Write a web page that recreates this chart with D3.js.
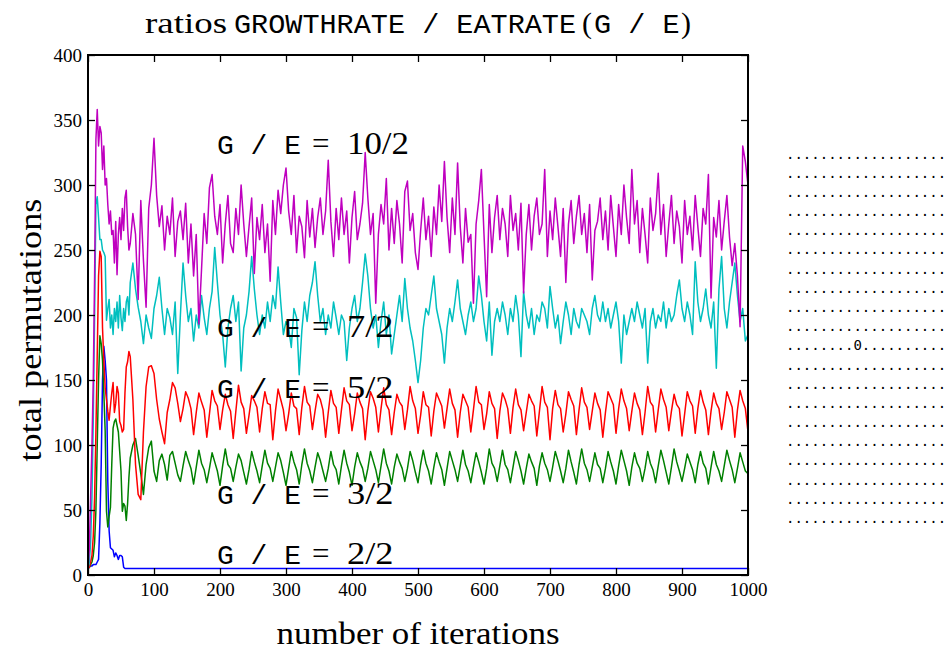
<!DOCTYPE html>
<html>
<head>
<meta charset="utf-8">
<script src="https://cdn.jsdelivr.net/npm/d3@7"></script>
<style>
  body { margin: 0; background: #fff; }
  svg { display: block; }
</style>
</head>
<body>
<div id="chart"></div>
<script>
// iterations: every 2 steps at the start, then every 4 steps
const earlyIters = [0,2,4,6,8,10,12,14,16,18,20,22,24,26,28,30,32,34,36,38,40,42,44,46,48,50,52,54,56,58,60,62];
const lateIters = d3.range(64, 1001, 4);
const iterations = earlyIters.concat(lateIters);

const xTicks = [0,100,200,300,400,500,600,700,800,900,1000];
const yTicks = [0,50,100,150,200,250,300,350,400];

// G / E = 2/2
const blueIters = earlyIters.concat([1000]);
const blueValues = [5,6,7,7,8,8,8,10,12,40,85,150,176,165,150,72,34,21,20,19,14,17,15,12,15,15,14,6,5,5,5,5,5];

// G / E = 3/2
const greenValues = [5,6,8,10,15,25,50,100,150,184,178,165,140,111,49,37,45,52,85,113,118,120,115,110,95,80,49,55,53,42,55,75,
  90,100,105,92,78,62,85,98,103,80,
  72,88,93,85,73,92,95,86,77,72,
  84,95,88,82,70,83,96,86,81,71,
  82,94,87,80,69,84,97,85,82,72,
  83,93,88,79,70,81,95,87,80,71,
  84,96,86,82,72,83,94,88,79,69,
  82,95,87,81,70,85,97,86,80,71,
  83,94,88,80,72,82,95,85,81,70,
  84,96,86,79,69,83,94,87,82,72,
  82,95,88,81,71,84,97,86,80,70,
  83,93,87,82,72,82,95,88,79,71,
  85,96,86,80,70,83,94,87,81,69,
  82,95,88,81,72,84,96,85,80,71,
  83,94,87,79,70,82,97,86,82,72,
  84,96,85,81,71,83,95,88,80,70,
  82,93,87,82,69,84,94,86,81,72,
  83,95,88,80,71,82,96,87,79,70,
  85,97,86,81,72,83,94,85,82,71,
  82,95,87,80,70,84,96,88,80,69,
  83,94,86,82,72,82,95,86,81,71,
  84,96,88,79,70,83,97,87,80,72,
  82,93,87,81,71,85,95,86,82,70,
  83,95,85,80,72,84,96,88,81,71,
  82,94,87,80,78];

// G / E = 5/2
const redValues = [5,6,10,15,30,60,110,170,230,249,245,190,165,144,135,126,119,130,140,148,125,132,145,140,118,115,110,112,140,160,164,172,
  168,135,85,62,58,110,145,160,161,155,
  135,120,110,101,125,135,148,144,132,118,
  128,141,136,128,108,125,140,133,127,106,
  124,142,134,130,112,127,139,131,126,105,
  126,146,133,128,109,123,138,134,129,110,
  128,141,132,131,104,126,143,135,127,111,
  124,140,130,128,108,129,145,133,130,112,
  126,139,135,127,106,125,142,132,129,109,
  127,144,134,131,111,124,140,133,128,104,
  126,141,136,129,110,128,144,131,127,108,
  125,139,133,130,112,127,145,134,128,109,
  123,141,131,129,107,126,140,135,130,113,
  128,143,132,127,106,125,139,134,129,110,
  127,145,133,131,112,124,141,132,128,105,
  126,140,135,128,109,129,143,131,127,111,
  125,139,134,130,107,126,145,133,129,104,
  128,142,131,128,110,124,141,135,130,108,
  127,144,133,129,112,126,140,132,127,106,
  125,141,136,131,109,128,143,134,128,111,
  126,140,132,127,108,125,145,133,130,110,
  127,143,135,129,111,126,139,131,128,107,
  124,141,134,130,109,128,142,133,127,108,
  126,140,132,128,112,125,141,135,129,106,
  127,142,134,128,110];

// G / E = 7/2
const cyanValues = [5,10,25,60,120,200,285,291,275,258,258,250,248,245,196,205,212,190,200,185,205,195,210,190,215,198,188,205,195,210,214,200,
  225,240,220,206,195,178,200,190,182,205,
  215,229,205,185,205,198,185,210,155,200,
  240,215,195,205,180,200,190,215,198,185,
  205,218,252,225,200,185,160,190,205,215,
  195,210,157,190,200,218,245,220,200,185,
  200,190,210,195,215,205,237,210,185,195,
  190,175,205,198,154,188,210,195,215,225,
  241,215,195,205,185,200,190,210,198,185,
  200,195,165,190,205,215,195,205,225,247,
  230,205,190,200,175,195,210,185,200,170,
  185,200,215,195,228,205,190,180,165,148,
  165,190,205,200,215,230,205,195,185,163,
  190,205,195,210,227,205,195,185,200,210,
  195,205,230,215,195,180,210,169,195,205,
  195,210,200,185,205,195,215,200,168,218,
  200,190,205,185,200,195,210,205,190,222,
  205,190,200,178,195,210,200,185,205,195,
  190,205,200,195,185,205,215,200,195,210,
  195,205,190,200,210,195,163,200,185,195,
  205,195,210,200,190,205,163,195,205,190,
  200,195,210,190,205,195,200,215,227,205,
  195,210,200,185,241,210,195,205,220,200,
  190,210,159,220,245,205,190,210,225,240,
  215,195,205,180,185];

// G / E = 10/2
const magentaValues = [5,20,60,100,150,230,335,358,330,345,340,312,330,300,305,285,270,280,262,265,240,272,231,262,275,258,282,265,290,296,268,250,
  255,278,262,212,288,242,206,282,300,336,
  292,268,284,250,276,262,290,245,272,280,
  258,286,240,270,230,262,193,235,278,255,
  298,308,276,262,285,240,270,292,255,248,
  282,262,300,270,245,268,290,232,275,258,
  285,248,270,226,288,262,296,278,300,313,
  280,262,292,248,276,268,244,288,260,282,
  252,275,290,262,280,319,272,245,282,258,
  290,262,280,240,275,295,258,270,286,325,
  290,262,278,209,262,285,270,305,250,282,
  255,288,270,240,295,303,265,278,248,235,
  265,290,258,276,245,283,262,300,272,318,
  275,248,290,262,317,268,240,282,256,262,
  209,270,288,312,262,214,285,248,275,292,
  258,282,270,245,292,265,278,250,286,217,
  262,285,250,276,290,262,270,312,245,280,
  258,290,268,245,282,225,270,288,255,276,
  292,262,278,248,285,227,265,272,290,258,
  280,250,292,268,245,285,262,300,275,255,
  312,270,288,248,282,262,240,290,265,278,
  309,262,285,245,270,292,255,280,268,240,
  288,262,276,250,292,268,245,282,270,308,
  213,275,260,288,250,272,292,260,238,255,
  230,191,330,318,300];

const labelTexts = ["10/2", "7/2", "5/2", "3/2", "2/2"];
const labelLevels = [324, 183, 136, 55, 8.5];   // where each label sits, in data units

const gridRows = [
  "...................",
  "...................",
  "...................",
  "...................",
  "...................",
  "...................",
  "...................",
  "...................",
  "...................",
  "...................",
  "........0..........",
  "...................",
  "...................",
  "...................",
  "...................",
  "...................",
  "...................",
  "...................",
  "...................",
  "..................."
];

const series = [
  { xs: blueIters,  ys: blueValues,    color: "#0000ff" },
  { xs: iterations, ys: greenValues,   color: "#008000" },
  { xs: iterations, ys: redValues,     color: "#ff0000" },
  { xs: iterations, ys: cyanValues,    color: "#00bfbf" },
  { xs: iterations, ys: magentaValues, color: "#bf00bf" }
];

const width = 947, height = 651;
const plot = { left: 88, right: 748, top: 55, bottom: 575 };
const serif = "'Liberation Serif', 'Times New Roman', serif";
const mono = "'Liberation Mono', 'DejaVu Sans Mono', monospace";

const svg = d3.select("#chart")
  .append("svg")
  .attr("width", width)
  .attr("height", height);

const x = d3.scaleLinear().domain([0, 1000]).range([plot.left, plot.right]);
const y = d3.scaleLinear().domain([0, 400]).range([plot.bottom, plot.top]);

svg.append("defs").append("clipPath")
  .attr("id", "plotClip")
  .append("rect")
  .attr("x", plot.left)
  .attr("y", plot.top)
  .attr("width", plot.right - plot.left)
  .attr("height", plot.bottom - plot.top);

// lines, in plotting order (magenta last, on top)
const lines = svg.append("g").attr("clip-path", "url(#plotClip)");
series.forEach(s => {
  const line = d3.line()
    .x((d, i) => x(s.xs[i]))
    .y(d => y(d));
  lines.append("path")
    .datum(s.ys)
    .attr("fill", "none")
    .attr("stroke", s.color)
    .attr("stroke-width", 1.5)
    .attr("stroke-linejoin", "round")
    .attr("d", line);
});

// axes with inward ticks
function styleAxis(g) {
  g.select(".domain").remove();
  g.selectAll(".tick line").attr("stroke", "#000").attr("stroke-width", 1.3);
  g.selectAll(".tick text")
    .attr("fill", "#000")
    .attr("font-family", serif)
    .attr("font-size", 19);
}

svg.append("g")
  .attr("transform", `translate(0, ${plot.bottom})`)
  .call(d3.axisBottom(x).tickValues(xTicks).tickFormat(d3.format("d"))
    .tickSizeInner(-7).tickSizeOuter(0).tickPadding(8))
  .call(styleAxis);

svg.append("g")
  .attr("transform", `translate(0, ${plot.top})`)
  .call(d3.axisTop(x).tickValues(xTicks).tickSizeInner(-7).tickSizeOuter(0).tickFormat(""))
  .call(styleAxis);

svg.append("g")
  .attr("transform", `translate(${plot.left}, 0)`)
  .call(d3.axisLeft(y).tickValues(yTicks).tickFormat(d3.format("d"))
    .tickSizeInner(-7).tickSizeOuter(0).tickPadding(6))
  .call(styleAxis);

svg.append("g")
  .attr("transform", `translate(${plot.right}, 0)`)
  .call(d3.axisRight(y).tickValues(yTicks).tickSizeInner(-7).tickSizeOuter(0).tickFormat(""))
  .call(styleAxis);

svg.append("rect")
  .attr("x", plot.left)
  .attr("y", plot.top)
  .attr("width", plot.right - plot.left)
  .attr("height", plot.bottom - plot.top)
  .attr("fill", "none")
  .attr("stroke", "#000")
  .attr("stroke-width", 2);

// ratio labels inside the plot
labelTexts.forEach((t, i) => {
  const txt = svg.append("text")
    .attr("y", y(labelLevels[i]))
    .attr("fill", "#000");
  txt.append("tspan")
    .attr("x", 217)
    .attr("font-family", mono)
    .attr("font-size", 28)
    .text("G / E");
  txt.append("tspan")
    .attr("x", 312)
    .attr("font-family", serif)
    .attr("font-size", 31)
    .text("=");
  txt.append("tspan")
    .attr("x", 347)
    .attr("font-family", serif)
    .attr("font-size", 31)
    .attr("textLength", t.length * 15.5)
    .attr("lengthAdjust", "spacingAndGlyphs")
    .text(t);
});

// title
const title = svg.append("text").attr("y", 33).attr("fill", "#000");
title.append("tspan")
  .attr("x", 145)
  .attr("font-family", serif)
  .attr("font-size", 30)
  .attr("textLength", 82)
  .attr("lengthAdjust", "spacingAndGlyphs")
  .text("ratios");
title.append("tspan")
  .attr("x", 234)
  .attr("font-family", mono)
  .attr("font-size", 28.5)
  .text("GROWTHRATE / EATRATE");
title.append("tspan")
  .attr("x", 582)
  .attr("font-family", serif)
  .attr("font-size", 30)
  .text("(");
title.append("tspan")
  .attr("x", 594)
  .attr("font-family", mono)
  .attr("font-size", 28.5)
  .text("G / E");
title.append("tspan")
  .attr("x", 681)
  .attr("font-family", serif)
  .attr("font-size", 30)
  .text(")");

// axis titles
svg.append("text")
  .attr("x", (plot.left + plot.right) / 2)
  .attr("y", 644)
  .attr("text-anchor", "middle")
  .attr("font-family", serif)
  .attr("font-size", 31)
  .attr("textLength", 283)
  .attr("lengthAdjust", "spacingAndGlyphs")
  .attr("fill", "#000")
  .text("number of iterations");

svg.append("text")
  .attr("transform", `translate(41, ${(plot.top + plot.bottom) / 2 + 15}) rotate(-90)`)
  .attr("text-anchor", "middle")
  .attr("font-family", serif)
  .attr("font-size", 31)
  .attr("textLength", 263)
  .attr("lengthAdjust", "spacingAndGlyphs")
  .attr("fill", "#000")
  .text("total permutations");

// dotted text block on the right
const rowY = d3.scaleLinear().domain([0, gridRows.length - 1]).range([158.5, 523]);
svg.append("g")
  .selectAll("text")
  .data(gridRows)
  .join("text")
  .attr("x", 786)
  .attr("y", (d, i) => rowY(i))
  .attr("font-family", "'DejaVu Sans Mono', monospace")
  .attr("font-size", 14)
  .attr("fill", "#000")
  .attr("xml:space", "preserve")
  .text(d => d);
</script>
</body>
</html>
